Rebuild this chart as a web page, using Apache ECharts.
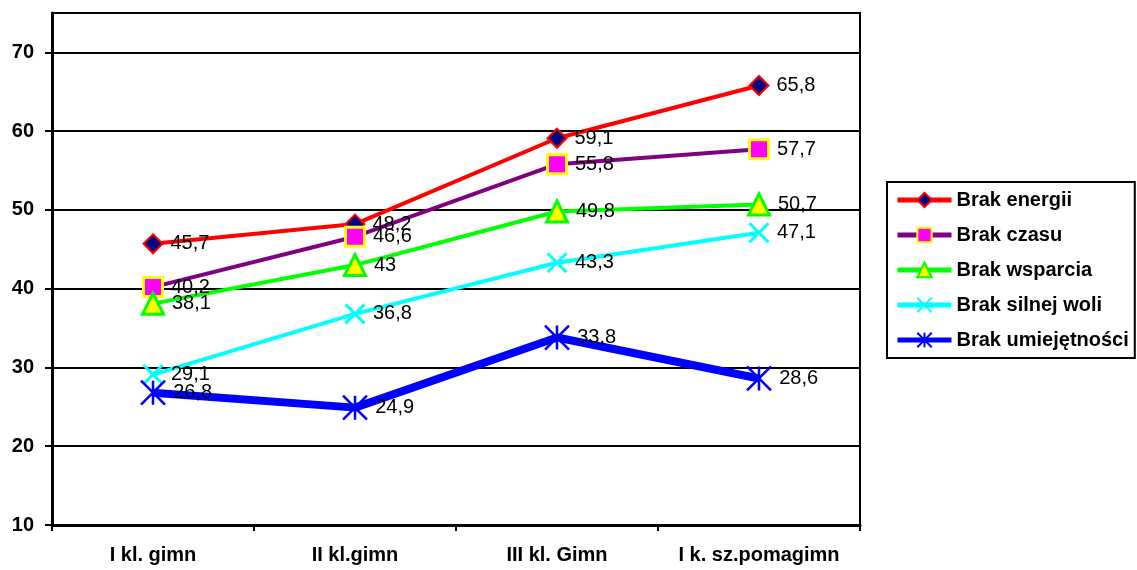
<!DOCTYPE html>
<html><head><meta charset="utf-8">
<script src="https://cdn.jsdelivr.net/npm/echarts@6/dist/echarts.min.js"></script>
<style>html,body{margin:0;padding:0;background:#fff}#c{width:1137px;height:570px}</style>
</head><body><div id="c"></div>
<script>
const categories = ['I kl. gimn', 'II kl.gimn', 'III kl. Gimn', 'I k. sz.pomagimn'];
const seriesNames = ['Brak energii', 'Brak czasu', 'Brak wsparcia', 'Brak silnej woli', 'Brak umiejętności'];
const energii = [45.7, 48.2, 59.1, 65.8];
const czasu = [40.2, 46.6, 55.8, 57.7];
const wsparcia = [38.1, 43, 49.8, 50.7];
const silnejWoli = [29.1, 36.8, 43.3, 47.1];
const umiejetnosci = [26.8, 24.9, 33.8, 28.6];
const yTicks = [10, 20, 30, 40, 50, 60, 70];

const FONT = '"Liberation Sans", Arial, sans-serif';
const crossPath = 'path://M0,0L10,10M10,0L0,10';
const starPath = 'path://M5,0L5,10M0,0L10,10M10,0L0,10';

function mk(name, data, lineColor, lineWidth, symbol, size, fill, border, bw) {
  return {
    name, type: 'line', data,
    symbol, symbolSize: size,
    lineStyle: { color: lineColor, width: lineWidth },
    itemStyle: { color: fill, borderColor: border, borderWidth: bw },
    label: {
      show: true, position: 'right', distance: 7,
      fontFamily: FONT, fontSize: 20, color: '#000',
      formatter: p => String(p.value).replace('.', ',')
    },
    emphasis: { disabled: true },
    animation: false
  };
}

const chart = echarts.init(document.getElementById('c'), null, { renderer: 'canvas' });
chart.setOption({
  backgroundColor: '#fff',
  animation: false,
  grid: { left: 52, right: 277, top: 13, bottom: 45, show: true, borderColor: '#000', borderWidth: 2, backgroundColor: 'transparent' },
  xAxis: {
    type: 'category', data: categories, boundaryGap: true,
    axisLine: { lineStyle: { color: '#000', width: 3 } },
    axisTick: { show: true, interval: 0, length: 6, lineStyle: { color: '#000', width: 2 }, alignWithLabel: false },
    axisLabel: { interval: 0, fontFamily: FONT, fontWeight: 'bold', fontSize: 20, color: '#000', margin: 20 }
  },
  yAxis: {
    type: 'value', min: 10, max: 75, interval: 10,
    axisLine: { show: true, lineStyle: { color: '#000', width: 3 } },
    axisTick: { show: true, length: 7, lineStyle: { color: '#000', width: 2 } },
    splitLine: { show: true, lineStyle: { color: '#000', width: 2 } },
    axisLabel: {
      fontFamily: FONT, fontWeight: 'bold', fontSize: 20, color: '#000', margin: 18,
      showMaxLabel: false,
      formatter: v => yTicks.includes(v) ? String(v) : ''
    }
  },
  legend: {
    orient: 'vertical', left: 887, top: 182,
    padding: [8, 6, 8, 8],
    borderColor: '#000', borderWidth: 2,
    itemWidth: 54, itemHeight: 18, itemGap: 15,
    lineStyle: { width: 5 },
    textStyle: { fontFamily: FONT, fontWeight: 'bold', fontSize: 20, color: '#000' },
    data: seriesNames
  },
  series: [
    mk(seriesNames[0], energii, '#ff0000', 4, 'diamond', 19, '#000080', '#ff0000', 2),
    mk(seriesNames[1], czasu, '#800080', 4, 'rect', 19, '#ff00ff', '#ffff00', 3),
    mk(seriesNames[2], wsparcia, '#00ff00', 4, 'triangle', 21, '#ffff00', '#00ff00', 3),
    mk(seriesNames[3], silnejWoli, '#00ffff', 4, crossPath, 19, '#00ffff', '#00ffff', 3),
    mk(seriesNames[4], umiejetnosci, '#0000ff', 8, starPath, 24, '#0000ff', '#0000ff', 2.5)
  ]
});
</script></body></html>
